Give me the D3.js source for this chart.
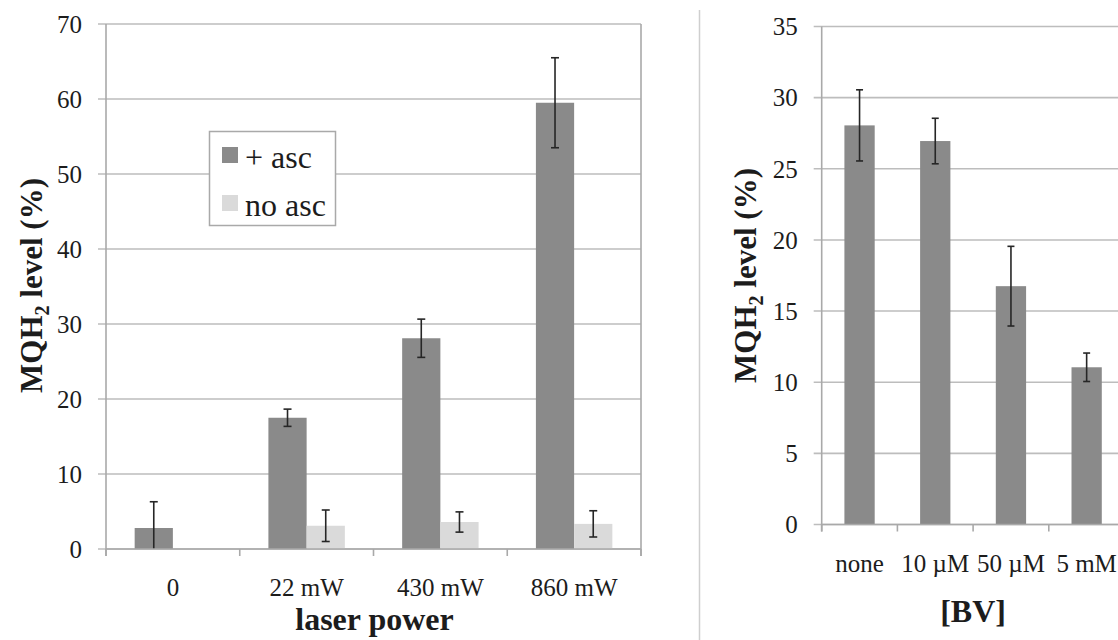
<!DOCTYPE html>
<html>
<head>
<meta charset="utf-8">
<script src="https://cdn.jsdelivr.net/npm/d3@7"></script>
<style>
  html, body { margin: 0; padding: 0; background: #fff; }
  svg { display: block; }
  text { font-family: "Liberation Serif", "Times New Roman", serif; fill: #1c1c1c; }
</style>
</head>
<body>
<svg id="fig" width="1118" height="640"></svg>
<script>
// Panel A: MQH2 level vs laser power, with and without ascorbate
const powerCategories = ["0", "22 mW", "430 mW", "860 mW"];
const seriesNames = ["+ asc", "no asc"];
const ascValues = [2.8, 17.5, 28.1, 59.5];
const ascErrors = [3.5, 1.15, 2.55, 6.0];
const noAscValues = [0, 3.1, 3.6, 3.35];
const noAscErrors = [0, 2.1, 1.35, 1.75];
const leftTicks = [0, 10, 20, 30, 40, 50, 60, 70];

// Panel B: MQH2 level vs biliverdin concentration
const bvCategories = ["none", "10 \u00b5M", "50 \u00b5M", "5 mM"];
const bvValues = [28.05, 26.95, 16.75, 11.05];
const bvErrors = [2.5, 1.6, 2.8, 1.0];
const rightTicks = [0, 5, 10, 15, 20, 25, 30, 35];

const darkGray = "#8a8a8a";
const lightGray = "#dadada";
const gridColor = "#bdbdbd";
const axisColor = "#a9a9a9";
const errColor = "#262626";

const svg = d3.select("#fig");

// vertical separator between the two panels
svg.append("line")
  .attr("x1", 699.5).attr("x2", 699.5).attr("y1", 10).attr("y2", 640)
  .attr("stroke", "#cfcfcf").attr("stroke-width", 1.5);

function drawErrorBar(g, cx, y, v, e, cap) {
  const lo = Math.max(0, v - e), hi = v + e;
  g.append("line").attr("x1", cx).attr("x2", cx)
    .attr("y1", y(hi)).attr("y2", y(lo))
    .attr("stroke", errColor).attr("stroke-width", 1.6);
  g.append("line").attr("x1", cx - cap).attr("x2", cx + cap)
    .attr("y1", y(hi)).attr("y2", y(hi))
    .attr("stroke", errColor).attr("stroke-width", 1.6);
  if (v - e >= 0) {
    g.append("line").attr("x1", cx - cap).attr("x2", cx + cap)
      .attr("y1", y(lo)).attr("y2", y(lo))
      .attr("stroke", errColor).attr("stroke-width", 1.6);
  }
}

function drawFrame(g, x, y, ticks, left, right, withRightBorder) {
  // gridlines
  g.selectAll(null).data(ticks).enter().append("line")
    .attr("x1", left - 8).attr("x2", right)
    .attr("y1", d => y(d)).attr("y2", d => y(d))
    .attr("stroke", gridColor).attr("stroke-width", 1.6);
  // value axis line
  g.append("line").attr("x1", left).attr("x2", left)
    .attr("y1", y(ticks[ticks.length - 1])).attr("y2", y(0) + 7)
    .attr("stroke", axisColor).attr("stroke-width", 1.6);
  if (withRightBorder) {
    g.append("line").attr("x1", right).attr("x2", right)
      .attr("y1", y(ticks[ticks.length - 1])).attr("y2", y(0) + 7)
      .attr("stroke", axisColor).attr("stroke-width", 1.6);
  }
  // category boundary ticks
  const bounds = x.domain().map(c => x(c)).concat([x(x.domain()[x.domain().length - 1]) + x.step()]);
  g.selectAll(null).data(bounds).enter().append("line")
    .attr("x1", d => d).attr("x2", d => d)
    .attr("y1", y(0)).attr("y2", y(0) + 7)
    .attr("stroke", axisColor).attr("stroke-width", 1.6);
  // tick labels
  g.selectAll(null).data(ticks).enter().append("text")
    .attr("x", left - 24).attr("y", d => y(d))
    .attr("dy", "0.35em").attr("text-anchor", "end")
    .attr("font-size", 25).text(d => d);
}

function yTitle(g, cx, cy) {
  const t = g.append("text")
    .attr("transform", `translate(${cx},${cy}) rotate(-90)`)
    .attr("text-anchor", "middle").attr("font-size", 31).attr("font-weight", "bold");
  t.append("tspan").text("MQH");
  t.append("tspan").attr("font-size", 20).attr("dy", 7).text("2");
  t.append("tspan").attr("dy", -7).text(" level (%)");
}

// ---------- Panel A ----------
{
  const g = svg.append("g");
  const left = 106, right = 641;
  const x0 = d3.scaleBand().domain(powerCategories).range([left, right]).padding(0);
  const cw = x0.bandwidth();
  const x1 = d3.scaleBand().domain(seriesNames)
    .range([cw * 0.75 / 3.5, cw * 2.75 / 3.5]).padding(0);
  const y = d3.scaleLinear().domain([0, 70]).range([549, 24]);

  drawFrame(g, x0, y, leftTicks, left, right, true);

  const series = [
    { name: seriesNames[0], vals: ascValues, errs: ascErrors, color: darkGray },
    { name: seriesNames[1], vals: noAscValues, errs: noAscErrors, color: lightGray }
  ];
  series.forEach(s => {
    g.selectAll(null).data(powerCategories).enter().append("rect")
      .attr("x", c => x0(c) + x1(s.name))
      .attr("width", x1.bandwidth())
      .attr("y", (c, i) => y(s.vals[i]))
      .attr("height", (c, i) => y(0) - y(s.vals[i]))
      .attr("fill", s.color);
  });
  series.forEach(s => {
    powerCategories.forEach((c, i) => {
      if (s.vals[i] > 0 || s.errs[i] > 0) {
        drawErrorBar(g, x0(c) + x1(s.name) + x1.bandwidth() / 2, y, s.vals[i], s.errs[i], 4);
      }
    });
  });
  // redraw baseline over the bars
  g.append("line").attr("x1", left).attr("x2", right).attr("y1", y(0)).attr("y2", y(0))
    .attr("stroke", axisColor).attr("stroke-width", 1.6);

  g.selectAll(null).data(powerCategories).enter().append("text")
    .attr("x", c => x0(c) + cw / 2).attr("y", 596)
    .attr("text-anchor", "middle").attr("font-size", 25).text(c => c);

  g.append("text").attr("x", (left + right) / 2 + 1).attr("y", 630)
    .attr("text-anchor", "middle").attr("font-size", 32).attr("font-weight", "bold")
    .text("laser power");

  yTitle(g, 42, 285.5);

  // legend
  const lg = g.append("g");
  lg.append("rect").attr("x", 209.5).attr("y", 131.5).attr("width", 126).attr("height", 94)
    .attr("fill", "#fff").attr("stroke", "#a9a9a9").attr("stroke-width", 1.5);
  series.forEach((s, i) => {
    lg.append("rect").attr("x", 222).attr("y", 147 + i * 48).attr("width", 16).attr("height", 16)
      .attr("fill", s.color);
    lg.append("text").attr("x", 245).attr("y", 168 + i * 48)
      .attr("font-size", 32).text(s.name);
  });
}

// ---------- Panel B ----------
{
  const g = svg.append("g");
  const left = 821.7, right = 1124.5;
  const x = d3.scaleBand().domain(bvCategories).range([left, right]).padding(0);
  const cw = x.bandwidth();
  const bw = cw / 2.5;
  const y = d3.scaleLinear().domain([0, 35]).range([524.5, 26.5]);

  drawFrame(g, x, y, rightTicks, left, right, false);

  g.selectAll(null).data(bvCategories).enter().append("rect")
    .attr("x", c => x(c) + (cw - bw) / 2)
    .attr("width", bw)
    .attr("y", (c, i) => y(bvValues[i]))
    .attr("height", (c, i) => y(0) - y(bvValues[i]))
    .attr("fill", darkGray);
  bvCategories.forEach((c, i) => {
    drawErrorBar(g, x(c) + cw / 2, y, bvValues[i], bvErrors[i], 3.5);
  });
  g.append("line").attr("x1", left).attr("x2", right).attr("y1", y(0)).attr("y2", y(0))
    .attr("stroke", axisColor).attr("stroke-width", 1.6);

  g.selectAll(null).data(bvCategories).enter().append("text")
    .attr("x", c => x(c) + cw / 2).attr("y", 572)
    .attr("text-anchor", "middle").attr("font-size", 25).text(c => c);

  g.append("text").attr("x", left + 2 * cw).attr("y", 622)
    .attr("text-anchor", "middle").attr("font-size", 32).attr("font-weight", "bold")
    .text("[BV]");

  yTitle(g, 756, 275.5);
}
</script>
</body>
</html>
